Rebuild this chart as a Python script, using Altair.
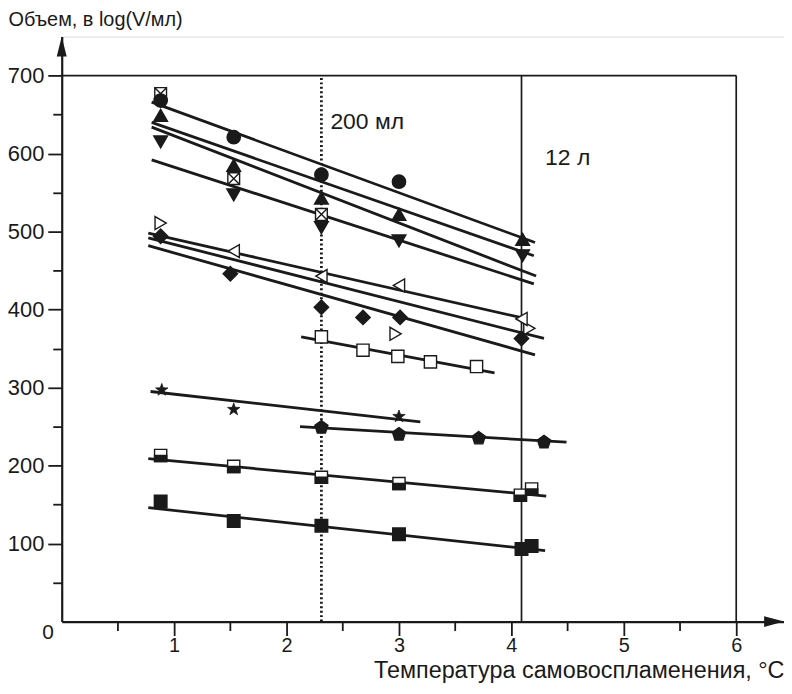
import altair as alt
import pandas as pd

# ---------------- data ----------------
circ_x = [0.88, 1.53, 2.31, 3.00]
circ_y = [668, 621, 573, 564]
tup_x = [0.88, 1.53, 2.31, 3.00, 4.10]
tup_y = [649, 585, 543, 522, 490]
tdn_x = [0.88, 1.53, 2.31, 3.00, 4.10]
tdn_y = [615, 547, 505, 488, 469]
xsq_x = [0.88, 1.53, 2.31]
xsq_y = [677, 568, 522]
tl_x = [1.53, 2.31, 3.00, 4.09]
tl_y = [475, 443, 431, 388]
tr_x = [0.88, 2.97, 4.16]
tr_y = [511, 369, 376]
dia_x = [0.88, 1.50, 2.31, 2.68, 3.01, 4.09]
dia_y = [494, 446, 403, 390, 390, 363]
osq_x = [2.31, 2.68, 2.99, 3.28, 3.69]
osq_y = [365, 348, 340, 333, 327]
star_x = [0.89, 1.53, 3.00]
star_y = [297, 272, 263]
pent_x = [2.31, 3.00, 3.71, 4.29]
pent_y = [249, 240, 235, 230]
hsq_x = [0.88, 1.53, 2.31, 3.00, 4.08, 4.18]
hsq_y = [213, 199, 185, 177, 162, 170]
fsq_x = [0.88, 1.53, 2.31, 3.00, 4.09, 4.18]
fsq_y = [154, 129, 123, 112, 93, 97]

# fitted straight lines: start and end points
fit_x0 = [0.80, 0.80, 0.80, 0.80, 0.77, 0.77, 0.77, 2.13, 0.79, 2.12, 0.77, 0.77]
fit_y0 = [666, 640, 634, 592, 498, 492, 482, 365, 295, 250, 209, 146]
fit_x1 = [4.21, 4.20, 4.22, 4.20, 4.08, 4.29, 4.21, 3.85, 3.19, 4.49, 4.31, 4.30]
fit_y1 = [486, 469, 443, 433, 390, 363, 342, 319, 256, 230, 161, 91]

# frame / reference lines
frame_right = 6.0
frame_top = 700
vol_x = [2.31, 4.09]
vol_labels = ["200 мл", "12 л"]
vol_label_x = [2.39, 4.30]
vol_label_y = [641, 594]

x_ticks = [0.5, 1, 1.5, 2, 2.5, 3, 3.5, 4, 4.5, 5, 5.5, 6]
y_ticks = [50, 100, 150, 200, 250, 300, 350, 400, 450, 500, 550, 600, 650, 700]
x_max = 6.425
y_max = 750

FONT = "Liberation Sans"
INK = "#1a1a1a"

W, H = 726, 588

xs = alt.Scale(domain=[0, x_max], nice=False, zero=False)
ys = alt.Scale(domain=[0, y_max], nice=False, zero=False)

x_axis = alt.Axis(
    values=x_ticks,
    labelExpr="datum.value % 1 === 0 ? format(datum.value, 'd') : ''",
    tickSize={"condition": {"test": "datum.value % 1 !== 0", "value": 9}, "value": 14},
    grid=False, domainColor=INK, domainWidth=2.2, tickColor=INK, tickWidth=1.8,
    labelFont=FONT, labelFontSize=20, labelColor=INK, labelPadding=0,
    labelOverlap=False, labelFlush=False, labelBound=False,
    title="Температура самовоспламенения, °C",
    titleFont=FONT, titleFontSize=23.5, titleFontWeight="normal", titleColor=INK,
    titleAnchor="end", titleAlign="right", titleBaseline="middle",
    titleX=W, titleY=49,
)
y_axis = alt.Axis(
    values=y_ticks,
    labelExpr="datum.value % 100 === 0 ? format(datum.value, 'd') : ''",
    tickSize={"condition": {"test": "datum.value % 100 !== 0", "value": 9}, "value": 14},
    grid=False, domainColor=INK, domainWidth=2.2, tickColor=INK, tickWidth=1.8,
    labelFont=FONT, labelFontSize=22, labelColor=INK, labelPadding=4,
    labelOverlap=False, labelFlush=False, labelBound=False,
    title="Объем, в log(V/мл)",
    titleFont=FONT, titleFontSize=20, titleFontWeight="normal", titleColor=INK,
    titleAngle=0, titleAlign="left", titleBaseline="middle",
    titleX=-54, titleY=-17,
)

# arrow heads at the ends of both axes
arrows = pd.DataFrame({"x": [0.0, x_max], "y": [y_max, 0.0], "k": ["up", "right"]})
arrow_up = alt.Chart(arrows[arrows.k == "up"]).mark_point(
    shape="M0,0L-1,4L1,4Z", filled=True, color=INK, size=100, opacity=1
).encode(x=alt.X("x:Q", scale=xs, axis=x_axis), y=alt.Y("y:Q", scale=ys, axis=y_axis))
arrow_right = alt.Chart(arrows[arrows.k == "right"]).mark_point(
    shape="M0,0L-4,-1.1L-4,1.1Z", filled=True, color=INK, size=100, opacity=1
).encode(x=alt.X("x:Q", scale=xs), y=alt.Y("y:Q", scale=ys))

# frame
frame_df = pd.DataFrame({"x": [0.0, frame_right], "x2": [frame_right, frame_right],
                         "y": [frame_top, 0], "y2": [frame_top, frame_top]})
frame = alt.Chart(frame_df).mark_rule(color=INK, strokeWidth=1.7).encode(
    x=alt.X("x:Q", scale=xs), x2="x2:Q", y=alt.Y("y:Q", scale=ys), y2="y2:Q")

vdf = pd.DataFrame({"x": vol_x, "y": [0, 0], "y2": [frame_top, frame_top]})
v_dot = alt.Chart(vdf.iloc[[0]]).mark_rule(color=INK, strokeWidth=2.8, strokeDash=[2, 2.5]).encode(
    x=alt.X("x:Q", scale=xs), y=alt.Y("y:Q", scale=ys), y2="y2:Q")
v_sol = alt.Chart(vdf.iloc[[1]]).mark_rule(color=INK, strokeWidth=1.7).encode(
    x=alt.X("x:Q", scale=xs), y=alt.Y("y:Q", scale=ys), y2="y2:Q")

tdf = pd.DataFrame({"x": vol_label_x, "y": vol_label_y, "t": vol_labels})
vtext = alt.Chart(tdf).mark_text(font=FONT, fontSize=23, color=INK, align="left",
                                 baseline="middle").encode(
    x=alt.X("x:Q", scale=xs), y=alt.Y("y:Q", scale=ys), text="t:N")

zero_df = pd.DataFrame({"x": [0.0], "y": [0.0], "t": ["0"]})
zero_t = alt.Chart(zero_df).mark_text(font=FONT, fontSize=21, color=INK, align="right",
                                      baseline="middle", dx=-8, dy=11).encode(
    x=alt.X("x:Q", scale=xs), y=alt.Y("y:Q", scale=ys), text="t:N")

# fitted lines
fdf = pd.DataFrame({"x": fit_x0, "y": fit_y0, "x2": fit_x1, "y2": fit_y1})
fits = alt.Chart(fdf).mark_rule(color=INK, strokeWidth=2.8, strokeCap="butt").encode(
    x=alt.X("x:Q", scale=xs), y=alt.Y("y:Q", scale=ys), x2="x2:Q", y2="y2:Q")

XSQ = "M-1,-1L1,-1L1,1L-1,1Z M-1,-1L1,1 M1,-1L-1,1"
PENT = "M0,-1L0.951,-0.309L0.588,0.809L-0.588,0.809L-0.951,-0.309Z"
STAR = ("M0,-1L0.235,-0.324L0.951,-0.309L0.38,0.124L0.588,0.809L0,0.4"
        "L-0.588,0.809L-0.38,0.124L-0.951,-0.309L-0.235,-0.324Z")
HALF = "M-1,0L1,0L1,1L-1,1Z"


def pts(xv, yv, shape, size, fill, stroke=INK, sw=1.4):
    d = pd.DataFrame({"x": xv, "y": yv})
    return alt.Chart(d).mark_point(shape=shape, filled=True, fill=fill, stroke=stroke,
                                   strokeWidth=sw, size=size, opacity=1, fillOpacity=1).encode(
        x=alt.X("x:Q", scale=xs), y=alt.Y("y:Q", scale=ys))


markers = [
    pts(tdn_x, tdn_y, "triangle-down", 190, INK),
    pts(tup_x, tup_y, "triangle-up", 190, INK),
    pts(xsq_x, xsq_y, XSQ, 140, "white"),
    pts(circ_x, circ_y, "circle", 180, INK),
    pts(tr_x, tr_y, "triangle-right", 170, "white"),
    pts(tl_x, tl_y, "triangle-left", 170, "white"),
    pts(dia_x, dia_y, "diamond", 210, INK),
    pts(osq_x, osq_y, "square", 150, "white"),
    pts(star_x, star_y, STAR, 170, INK, sw=0.8),
    pts(pent_x, pent_y, PENT, 190, INK),
    pts(hsq_x, hsq_y, "square", 150, "white"),
    pts(hsq_x, hsq_y, HALF, 150, INK),
    pts(fsq_x, fsq_y, "square", 160, INK),
]

chart = alt.layer(
    arrow_up, arrow_right, frame, v_dot, v_sol, fits, *markers, vtext, zero_t
).properties(
    width=W, height=H,
    autosize=alt.AutoSizeParams(type="none"),
    padding={"left": 54, "top": 27, "right": 0, "bottom": 68},
).configure_view(stroke=None).configure(background="white")

chart.save("out.html", embed_options={"renderer": "svg", "actions": False})
